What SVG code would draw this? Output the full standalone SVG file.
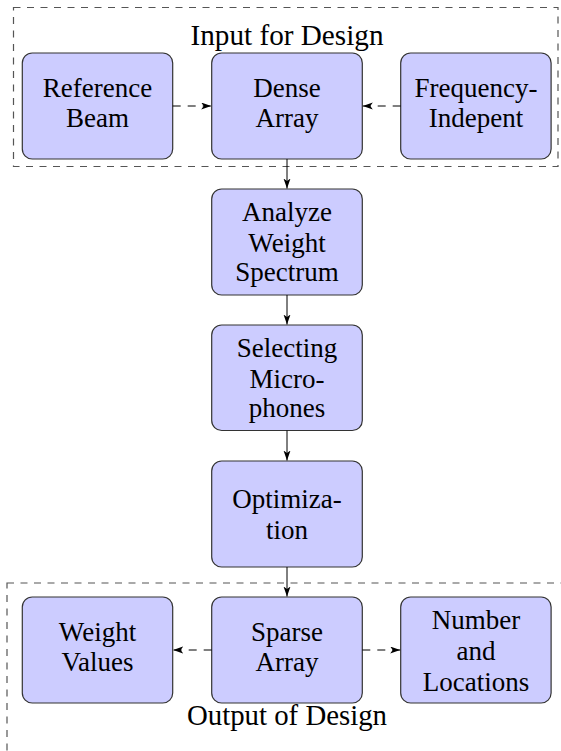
<svg xmlns="http://www.w3.org/2000/svg" width="561" height="751" viewBox="0 0 561 751">
<defs>
<marker id="ah" markerUnits="userSpaceOnUse" markerWidth="11" markerHeight="8" refX="10" refY="3.5" orient="auto">
<path d="M0,0 L10,3.5 L0,7 L2.5,3.5 z" fill="#000"/>
</marker>
</defs>
<g id="input-frame">
<rect x="13.5" y="7.5" width="544.5" height="159" fill="none" stroke="#555" stroke-width="1.2" stroke-dasharray="7,6.5"/>
<text x="287" y="45" font-family="Liberation Serif" font-size="29.5" text-anchor="middle" textLength="193" lengthAdjust="spacingAndGlyphs">Input for Design</text>
</g>
<g id="output-frame">
<rect x="7" y="583" width="620" height="240" fill="none" stroke="#555" stroke-width="1.2" stroke-dasharray="7,6.5"/>
<text x="287" y="725" font-family="Liberation Serif" font-size="29.5" text-anchor="middle" textLength="200" lengthAdjust="spacingAndGlyphs">Output of Design</text>
</g>
<g id="reference-beam">
<rect x="22.3" y="53" width="150.4" height="106" rx="10" fill="#ccccff" stroke="#333" stroke-width="1.2"/>
<text x="97.5" y="97" font-family="Liberation Serif" font-size="27" text-anchor="middle">Reference</text>
<text x="97.5" y="127" font-family="Liberation Serif" font-size="27" text-anchor="middle">Beam</text>
</g>
<g id="dense-array">
<rect x="211.7" y="53" width="150.6" height="106" rx="10" fill="#ccccff" stroke="#333" stroke-width="1.2"/>
<text x="287" y="97" font-family="Liberation Serif" font-size="27" text-anchor="middle">Dense</text>
<text x="287" y="127" font-family="Liberation Serif" font-size="27" text-anchor="middle">Array</text>
</g>
<g id="frequency-indepent">
<rect x="400.7" y="53" width="150.4" height="106" rx="10" fill="#ccccff" stroke="#333" stroke-width="1.2"/>
<text x="476" y="97" font-family="Liberation Serif" font-size="27" text-anchor="middle">Frequency-</text>
<text x="476" y="127" font-family="Liberation Serif" font-size="27" text-anchor="middle">Indepent</text>
</g>
<g id="analyze">
<rect x="211.7" y="189" width="150.6" height="106" rx="10" fill="#ccccff" stroke="#333" stroke-width="1.2"/>
<text x="287" y="221" font-family="Liberation Serif" font-size="27" text-anchor="middle">Analyze</text>
<text x="287" y="252" font-family="Liberation Serif" font-size="27" text-anchor="middle">Weight</text>
<text x="287" y="281" font-family="Liberation Serif" font-size="27" text-anchor="middle">Spectrum</text>
</g>
<g id="selecting">
<rect x="211.7" y="325" width="150.6" height="105.5" rx="10" fill="#ccccff" stroke="#333" stroke-width="1.2"/>
<text x="287" y="357" font-family="Liberation Serif" font-size="27" text-anchor="middle">Selecting</text>
<text x="287" y="388" font-family="Liberation Serif" font-size="27" text-anchor="middle">Micro-</text>
<text x="287" y="417" font-family="Liberation Serif" font-size="27" text-anchor="middle">phones</text>
</g>
<g id="optimization">
<rect x="211.7" y="461" width="150.6" height="106" rx="10" fill="#ccccff" stroke="#333" stroke-width="1.2"/>
<text x="287" y="508" font-family="Liberation Serif" font-size="27" text-anchor="middle">Optimiza-</text>
<text x="287" y="539" font-family="Liberation Serif" font-size="27" text-anchor="middle">tion</text>
</g>
<g id="weight-values">
<rect x="22.3" y="597" width="150.4" height="106" rx="10" fill="#ccccff" stroke="#333" stroke-width="1.2"/>
<text x="97.5" y="641" font-family="Liberation Serif" font-size="27" text-anchor="middle">Weight</text>
<text x="97.5" y="671" font-family="Liberation Serif" font-size="27" text-anchor="middle">Values</text>
</g>
<g id="sparse-array">
<rect x="211.7" y="597" width="150.6" height="106" rx="10" fill="#ccccff" stroke="#333" stroke-width="1.2"/>
<text x="287" y="641" font-family="Liberation Serif" font-size="27" text-anchor="middle">Sparse</text>
<text x="287" y="671" font-family="Liberation Serif" font-size="27" text-anchor="middle">Array</text>
</g>
<g id="number-locations">
<rect x="400.7" y="597" width="150.4" height="106" rx="10" fill="#ccccff" stroke="#333" stroke-width="1.2"/>
<text x="476" y="628.5" font-family="Liberation Serif" font-size="27" text-anchor="middle">Number</text>
<text x="476" y="660" font-family="Liberation Serif" font-size="27" text-anchor="middle">and</text>
<text x="476" y="690.5" font-family="Liberation Serif" font-size="27" text-anchor="middle">Locations</text>
</g>
<g id="connectors" fill="none" stroke="#000" stroke-width="1">
<path stroke-dasharray="8,7" d="M172.7,106 H211.2" marker-end="url(#ah)"/>
<path stroke-dasharray="8,7" d="M400.7,106 H362.8" marker-end="url(#ah)"/>
<path d="M287,159 V188.5" marker-end="url(#ah)"/>
<path d="M287,295 V324.5" marker-end="url(#ah)"/>
<path d="M287,430.5 V460.5" marker-end="url(#ah)"/>
<path d="M287,567 V596.5" marker-end="url(#ah)"/>
<path stroke-dasharray="8,7" d="M211.7,650 H173.2" marker-end="url(#ah)"/>
<path stroke-dasharray="8,7" d="M362.3,650 H400.2" marker-end="url(#ah)"/>
</g>
</svg>
